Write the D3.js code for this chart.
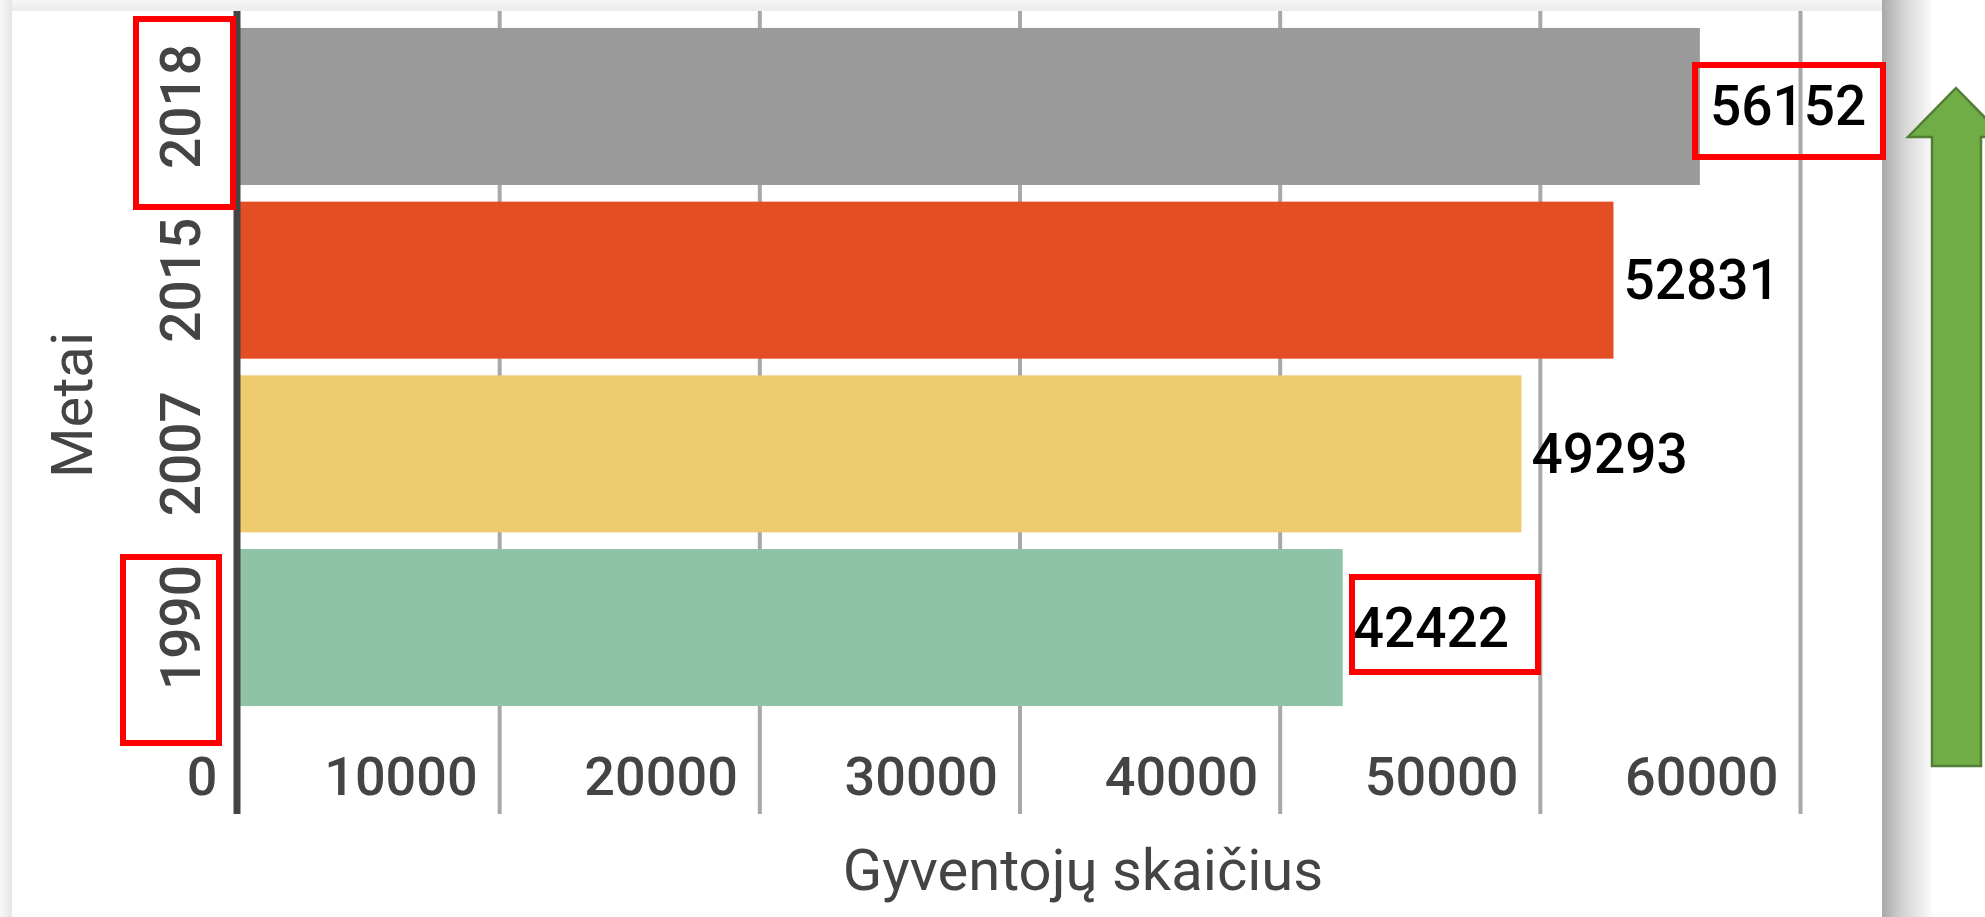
<!DOCTYPE html>
<html>
<head>
<meta charset="utf-8">
<script src="https://cdn.jsdelivr.net/npm/d3@7"></script>
<style>
  html, body { margin: 0; padding: 0; background: #ffffff; }
  svg { display: block; }
  text { font-family: Roboto, "Noto Sans", sans-serif; }
</style>
</head>
<body>
<svg id="chart" width="1985" height="917"></svg>
<script>
// ---- data ----
const years = ["2018", "2015", "2007", "1990"];
const population = [56152, 52831, 49293, 42422];
const barColors = ["#9a9a9a", "#e44e25", "#eecb6c", "#8fc3a7"];
const xTickValues = [0, 10000, 20000, 30000, 40000, 50000, 60000];
const xTitle = "Gyventojų skaičius";
const yTitle = "Metai";

const svg = d3.select("#chart");
const W = 1985, H = 917;

// ---- page / card background ----
const defs = svg.append("defs");
const sh = defs.append("linearGradient").attr("id", "shadowR").attr("x1", 0).attr("x2", 1).attr("y1", 0).attr("y2", 0);
sh.append("stop").attr("offset", "0%").attr("stop-color", "#a9a9a9");
sh.append("stop").attr("offset", "40%").attr("stop-color", "#d2d2d2");
sh.append("stop").attr("offset", "100%").attr("stop-color", "#fafafa");
const shT = defs.append("linearGradient").attr("id", "shadowT").attr("x1", 0).attr("x2", 0).attr("y1", 0).attr("y2", 1);
shT.append("stop").attr("offset", "0%").attr("stop-color", "#f6f6f6");
shT.append("stop").attr("offset", "100%").attr("stop-color", "#ececec");
const shL = defs.append("linearGradient").attr("id", "shadowL").attr("x1", 0).attr("x2", 1).attr("y1", 0).attr("y2", 0);
shL.append("stop").attr("offset", "0%").attr("stop-color", "#f7f7f7");
shL.append("stop").attr("offset", "100%").attr("stop-color", "#e6e6e6");

const cardL = 12, cardT = 11, cardR = 1882;
svg.append("rect").attr("x", 0).attr("y", 0).attr("width", cardR + 50).attr("height", cardT).attr("fill", "url(#shadowT)");
svg.append("rect").attr("x", 0).attr("y", 0).attr("width", cardL).attr("height", H).attr("fill", "url(#shadowL)");
svg.append("rect").attr("x", cardR).attr("y", 0).attr("width", 50).attr("height", H).attr("fill", "url(#shadowR)");
svg.append("rect").attr("x", cardL).attr("y", cardT).attr("width", cardR - cardL).attr("height", H - cardT).attr("fill", "#ffffff");

// ---- scales ----
const x = d3.scaleLinear().domain([0, 60000]).range([239, 1800]);
const y = d3.scaleBand().domain(years).range([19.6, 714.4]).paddingInner(0.096).paddingOuter(0.048);

const gridTop = cardT, gridBottom = 814;

// ---- gridlines (via axis) ----
const gridAxis = d3.axisTop(x).tickValues(xTickValues.slice(1)).tickSize(-(gridBottom - gridTop)).tickFormat("");
const gg = svg.append("g").attr("transform", `translate(0,${gridTop})`).call(gridAxis);
gg.select(".domain").remove();
gg.selectAll(".tick line").attr("stroke", "#a8a8a8").attr("stroke-width", 4);

// ---- bars ----
const data = years.map((yr, i) => ({ year: yr, value: population[i], color: barColors[i] }));
svg.append("g").selectAll("rect").data(data).join("rect")
  .attr("x", x(0))
  .attr("y", d => y(d.year))
  .attr("width", d => x(d.value) - x(0))
  .attr("height", y.bandwidth())
  .attr("fill", d => d.color);

// ---- baseline (zero axis) ----
svg.append("line")
  .attr("x1", x(0) - 2).attr("x2", x(0) - 2)
  .attr("y1", gridTop).attr("y2", gridBottom)
  .attr("stroke", "#444444").attr("stroke-width", 7);

// ---- x tick labels (right-aligned to their gridline) ----
const xAxis = d3.axisBottom(x).tickValues(xTickValues).tickSize(0).tickPadding(0).tickFormat(d3.format("d"));
const xa = svg.append("g").call(xAxis);
xa.select(".domain").remove();
xa.selectAll(".tick text")
  .attr("text-anchor", "end")
  .attr("x", -22)
  .attr("y", 795)
  .attr("dy", null)
  .attr("fill", "#444444")
  .style("font-family", "Roboto, sans-serif")
  .style("font-weight", 500)
  .style("font-size", "54px");

// ---- y category labels (rotated) ----
const yAxis = d3.axisLeft(y).tickSize(0).tickPadding(0);
const ya = svg.append("g").attr("transform", `translate(200,0)`).call(yAxis);
ya.select(".domain").remove();
ya.selectAll(".tick text")
  .attr("x", 0).attr("dy", null)
  .attr("transform", "rotate(-90)")
  .attr("text-anchor", "middle")
  .attr("fill", "#444444")
  .style("font-family", "Roboto, sans-serif")
  .style("font-weight", 500)
  .style("font-size", "55px");

// ---- value labels ----
svg.append("g").selectAll("text").data(data).join("text")
  .attr("x", d => x(d.value) + 10)
  .attr("y", d => y(d.year) + y.bandwidth() / 2 + 19)
  .attr("fill", "#000000")
  .style("font-weight", 500)
  .style("font-size", "55px")
  .text(d => d.value);

// ---- axis titles ----
svg.append("text")
  .attr("x", 1083).attr("y", 890)
  .attr("text-anchor", "middle")
  .attr("fill", "#444444")
  .style("font-size", "58px")
  .text(xTitle);

svg.append("text")
  .attr("transform", "translate(92,405) rotate(-90)")
  .attr("text-anchor", "middle")
  .attr("fill", "#444444")
  .style("font-size", "58px")
  .text(yTitle);

// ---- red highlight boxes ----
const boxes = [
  { x: 136, y: 19, w: 97, h: 188 },     // around 2018
  { x: 123, y: 557, w: 96, h: 186 },    // around 1990
  { x: 1695, y: 65, w: 188, h: 92 },    // around 56152
  { x: 1352, y: 577, w: 186, h: 95 }    // around 42422
];
svg.append("g").selectAll("rect").data(boxes).join("rect")
  .attr("x", d => d.x).attr("y", d => d.y)
  .attr("width", d => d.w).attr("height", d => d.h)
  .attr("fill", "none").attr("stroke", "#ff0000").attr("stroke-width", 6);

// ---- green arrow ----
const arrow = d3.path();
arrow.moveTo(1956, 88);
arrow.lineTo(2004, 137);
arrow.lineTo(1981, 137);
arrow.lineTo(1981, 766);
arrow.lineTo(1932, 766);
arrow.lineTo(1932, 137);
arrow.lineTo(1908, 137);
arrow.closePath();
svg.append("path").attr("d", arrow.toString())
  .attr("fill", "#70ad47").attr("stroke", "#507e32").attr("stroke-width", 2.5);
</script>
</body>
</html>
